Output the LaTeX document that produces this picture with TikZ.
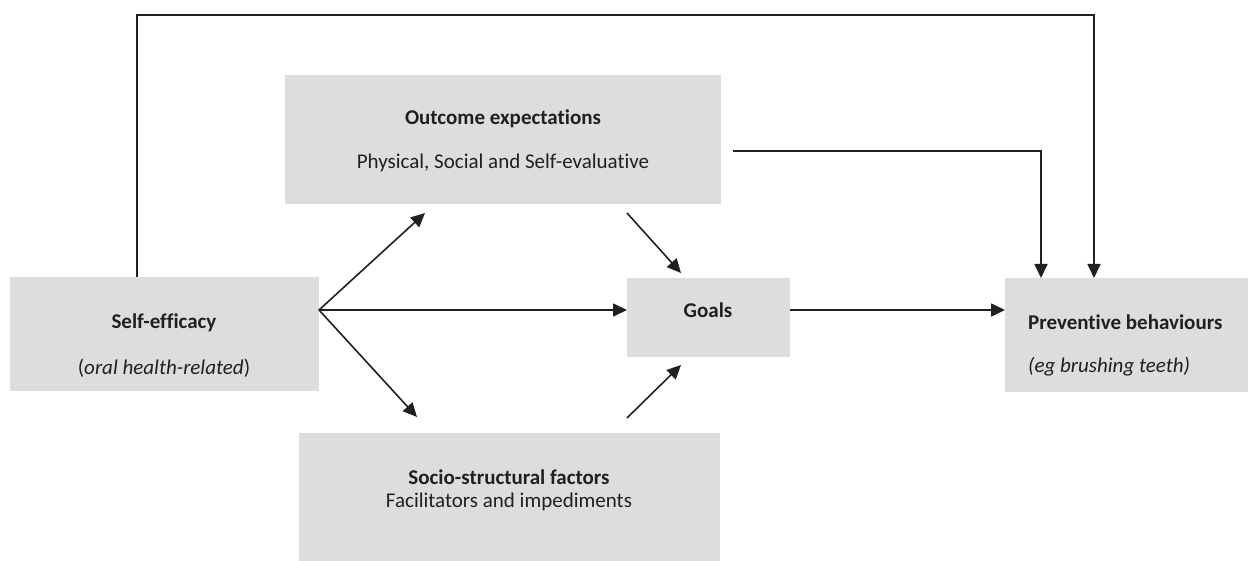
\documentclass[tikz,border=0pt]{standalone}
\usepackage{fontspec}
\setmainfont{Carlito}[Ligatures=NoCommon]
\usetikzlibrary{arrows.meta, positioning, calc}
\definecolor{boxgrey}{RGB}{220,221,223}
\definecolor{ink}{RGB}{35,31,32}

\begin{document}
\begin{tikzpicture}[x=1pt, y=-1pt,
      box/.style={rectangle, fill=boxgrey, inner sep=0pt, anchor=north west},
      head/.style={font=\fontsize{21}{24}\selectfont\bfseries, text=ink, inner sep=0pt},
      sub/.style={font=\fontsize{21}{24}\selectfont, text=ink, inner sep=0pt},
      arr/.style={-{Triangle[length=14pt, width=13pt]}, line width=1.6pt, ink},
      ]
    \useasboundingbox (0,0) rectangle (1248,561);

    % boxes
    \node[box, minimum width=309pt, minimum height=114pt] (se) at (10,277) {};
    \node[box, minimum width=436pt, minimum height=129pt] (oe) at (285,75) {};
    \node[box, minimum width=421pt, minimum height=128pt] (ssf) at (299,433) {};
    \node[box, minimum width=163pt, minimum height=79pt] (goals) at (627,278) {};
    \node[box, minimum width=243pt, minimum height=114pt] (pb) at (1005,278) {};

    % box texts
    \node[head] (se-t) at (164,323) {Self-efficacy};
    \node[sub] (se-s) at (164,368) {(\textit{oral health-related})};
    \node[head] (oe-t) at (503,119) {Outcome expectations};
    \node[sub] (oe-s) at (503,163) {Physical, Social and Self-evaluative};
    \node[head] (ssf-t) at (509,477) {Socio-structural factors};
    \node[sub] (ssf-s) at (509,502) {Facilitators and impediments};
    \node[head] (goals-t) at (708,310) {Goals};
    \node[head, anchor=west] (pb-t) at (1028,322) {Preventive behaviours};
    \node[sub, anchor=west] (pb-s) at (1028,367) {\textit{(eg brushing teeth)}};

    % arrow ends
    \coordinate (fan) at (319,310);
    \coordinate (oe-in) at (425,213);
    \coordinate (ssf-in) at (417,417);
    \coordinate (oe-out) at (627,213);
    \coordinate (ssf-out) at (627,418);
    \coordinate (goals-top) at (681,273);
    \coordinate (goals-bot) at (681,365);
    \coordinate (oe-side) at (733,151);

    \draw[arr] (fan) -- (oe-in);
    \draw[arr] (fan) -- (ssf-in);
    \draw[arr] (fan) -- (fan -| goals.west);
    \draw[arr] (oe-out) -- (goals-top);
    \draw[arr] (ssf-out) -- (goals-bot);
    \draw[arr] (goals.east |- fan) -- (pb.west |- fan);
    \draw[arr] (oe-side) -| ([xshift=36pt]pb.north west);
    \draw[arr] ([xshift=-27.5pt]se.north) -- ++(0,-262) -| ([xshift=89pt]pb.north west);
  \end{tikzpicture}
\end{document}
